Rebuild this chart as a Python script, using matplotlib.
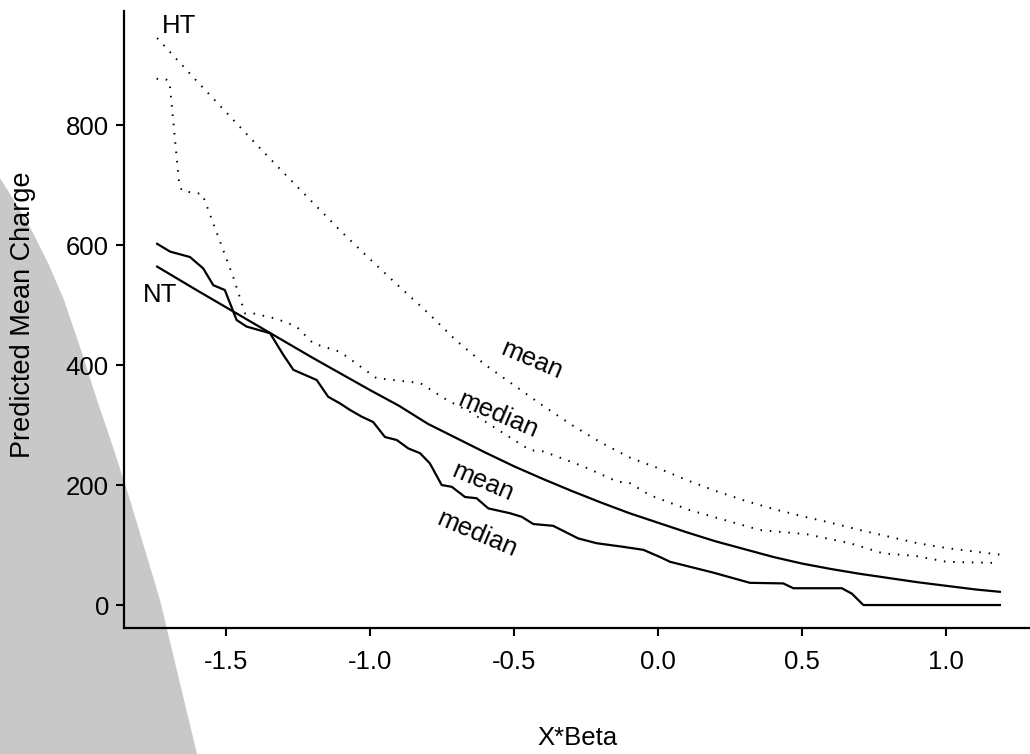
import matplotlib
matplotlib.use("Agg")
import matplotlib.pyplot as plt
from matplotlib.patches import Polygon

plt.rcParams['font.family'] = ['Liberation Sans', 'DejaVu Sans']

# ---- data ----
ht_mean_x = [-1.74, -1.6, -1.5, -1.4, -1.3, -1.2, -1.1, -1.0, -0.9, -0.8, -0.7, -0.6, -0.5, -0.4, -0.3,
             -0.2, -0.1, 0.0, 0.1, 0.2, 0.3, 0.4, 0.5, 0.6, 0.7, 0.8, 0.9, 1.0, 1.1, 1.186]
ht_mean_y = [945, 872, 821, 770, 720, 671, 622, 576, 531, 487, 440, 400, 366, 332, 300,
             271, 246, 228, 208, 190, 174, 160, 148, 137, 125, 114, 103, 95, 89, 84]

ht_med_x = [-1.742, -1.713, -1.698, -1.695, -1.663, -1.653, -1.583, -1.476, -1.435, -1.406, -1.325, -1.256,
            -1.198, -1.105, -0.978, -0.827, -0.735, -0.654, -0.445, -0.399, -0.260, -0.144, -0.098, -0.029,
            0.110, 0.353, 0.515, 0.666, 0.781, 0.891, 1.001, 1.181]
ht_med_y = [877, 877, 873, 862, 700, 690, 685, 547, 486, 486, 477, 464,
            436, 422, 378, 370, 342, 322, 258, 256, 231, 206, 203, 183,
            158, 125, 118, 103, 86, 82, 72, 70]

nt_mean_x = [-1.74, -1.6, -1.5, -1.4, -1.3, -1.2, -1.1, -1.0, -0.9, -0.8, -0.7, -0.6, -0.5, -0.4, -0.3,
             -0.2, -0.1, 0.0, 0.1, 0.2, 0.3, 0.4, 0.5, 0.6, 0.7, 0.8, 0.9, 1.0, 1.1, 1.186]
nt_mean_y = [564, 524, 496, 468, 440, 412, 385, 358, 332, 302, 278, 254, 231, 210, 190,
             171, 153, 137, 121, 106, 93, 80, 69, 60, 52, 45, 38, 32, 26, 22]

nt_med_x = [-1.74, -1.695, -1.626, -1.580, -1.545, -1.505, -1.464, -1.429, -1.348, -1.302, -1.267, -1.186,
            -1.146, -1.105, -1.070, -1.030, -0.990, -0.949, -0.908, -0.868, -0.827, -0.793, -0.752, -0.717,
            -0.671, -0.631, -0.590, -0.515, -0.474, -0.434, -0.365, -0.278, -0.214, -0.122, -0.052, 0.006,
            0.041, 0.191, 0.318, 0.434, 0.469, 0.637, 0.672, 0.712, 1.186]
nt_med_y = [602, 589, 580, 561, 533, 525, 475, 464, 453, 417, 392, 375,
            347, 336, 325, 314, 305, 280, 275, 261, 253, 236, 200, 197,
            180, 178, 161, 153, 147, 135, 132, 111, 103, 97, 92, 80,
            72, 54, 37, 36, 28, 28, 19, 0, 0]

x_ticks = [-1.5, -1.0, -0.5, 0.0, 0.5, 1.0]
y_ticks = [0, 200, 400, 600, 800]

W, H = 1030, 754
fig = plt.figure(figsize=(W / 100, H / 100), dpi=100)

# gray background shape at the left (figure pixel coords, y from top)
shape_px = [(0, 178), (15, 202), (33, 233), (49, 265), (64, 300), (81, 350), (97, 400),
            (114, 450), (130, 500), (145, 550), (160, 600), (172, 650), (184, 700), (197, 754), (0, 754)]
poly = Polygon([(x / W, 1 - y / H) for x, y in shape_px], closed=True,
               transform=fig.transFigure, facecolor='#c8c8c8', edgecolor='none', zorder=-5)
fig.patches.append(poly)

ax_l, ax_r, ax_t, ax_b = 124, 1030, 11, 628
ax = fig.add_axes([ax_l / W, 1 - ax_b / H, (ax_r - ax_l) / W, (ax_b - ax_t) / H])
ax.set_facecolor('none')
ax.set_zorder(2)

dot = (0, (0.8, 4.0))
ax.plot(ht_mean_x, ht_mean_y, color='black', lw=1.4, linestyle=dot)
ax.plot(ht_med_x, ht_med_y, color='black', lw=1.4, linestyle=dot)
ax.plot(nt_mean_x, nt_mean_y, color='black', lw=1.6, solid_joinstyle='round')
ax.plot(nt_med_x, nt_med_y, color='black', lw=1.6, solid_joinstyle='round')

ax.set_xlim(-1.855, 1.2906)
ax.set_ylim(-38.3, 990)

fs = 18.5
ax.text(-1.723, 953, 'HT', fontsize=fs, ha='left', va='baseline')
ax.text(-1.79, 505, 'NT', fontsize=fs, ha='left', va='baseline')
ax.text(-0.440, 408, 'mean', fontsize=fs, rotation=-23, rotation_mode='anchor', ha='center', va='center')
ax.text(-0.556, 317, 'median', fontsize=fs, rotation=-23, rotation_mode='anchor', ha='center', va='center')
ax.text(-0.608, 205, 'mean', fontsize=fs, rotation=-23, rotation_mode='anchor', ha='center', va='center')
ax.text(-0.631, 119, 'median', fontsize=fs, rotation=-23, rotation_mode='anchor', ha='center', va='center')

ax.set_xticks(x_ticks)
ax.set_xticklabels([f'{v:.1f}' for v in x_ticks])
ax.set_yticks(y_ticks)
ax.set_yticklabels([str(v) for v in y_ticks])

for s in ['top', 'right']:
    ax.spines[s].set_visible(False)
for s in ['left', 'bottom']:
    ax.spines[s].set_linewidth(1.6)
ax.tick_params(axis='both', direction='out', length=5.8, width=1.5, labelsize=fs)
ax.tick_params(axis='x', pad=10)
ax.tick_params(axis='y', pad=5)

fig.text(577 / W, 1 - 738 / H, 'X*Beta', fontsize=fs, ha='center', va='center')
fig.text(23 / W, 1 - 315 / H, 'Predicted Mean Charge', fontsize=19.5, ha='center', va='center', rotation=90)

fig.savefig('out.png', dpi=100)
